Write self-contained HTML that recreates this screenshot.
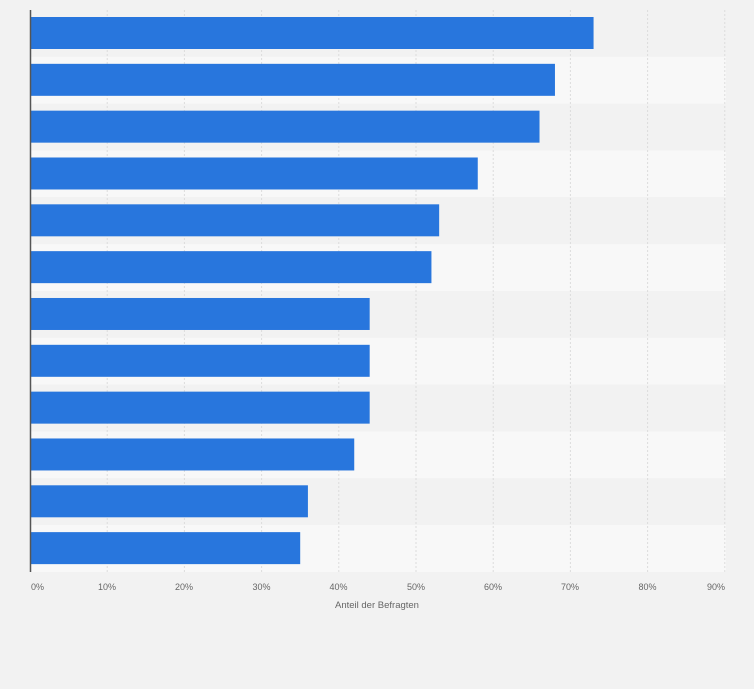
<!DOCTYPE html>
<html><head><meta charset="utf-8"><style>
html,body{margin:0;padding:0;background:#f2f2f2;}
svg{display:block;font-family:"Liberation Sans",Arial,sans-serif;}
</style></head><body>
<svg width="754" height="689" viewBox="0 0 754 689" xmlns="http://www.w3.org/2000/svg">
<rect width="754" height="689" fill="#f2f2f2"/>
<g id="rows"></g>
<g id="grid"></g>
<g id="bars"></g>
<line x1="30.5" y1="10" x2="30.5" y2="572" stroke="#555" stroke-width="1.5"/>
<g font-size="9" fill="#666">
<text x="31" y="590">0%</text>
<text x="107" y="590" text-anchor="middle">10%</text>
<text x="184" y="590" text-anchor="middle">20%</text>
<text x="261.5" y="590" text-anchor="middle">30%</text>
<text x="338.5" y="590" text-anchor="middle">40%</text>
<text x="416" y="590" text-anchor="middle">50%</text>
<text x="493" y="590" text-anchor="middle">60%</text>
<text x="570" y="590" text-anchor="middle">70%</text>
<text x="647.5" y="590" text-anchor="middle">80%</text>
<text x="725" y="590" text-anchor="end">90%</text>
</g>
<text x="377" y="608" font-size="9.5" fill="#666" text-anchor="middle">Anteil der Befragten</text>
<script>
var ns="http://www.w3.org/2000/svg";
function el(p,t,a){var e=document.createElementNS(ns,t);for(var k in a)e.setAttribute(k,a[k]);document.getElementById(p).appendChild(e);}
var vals=[73,68,66,58,53,52,44,44,44,42,36,35],pitch=46.83;
for(var i=0;i<12;i++){var y=10+i*pitch;
el("rows","rect",{x:30,y:y,width:696,height:pitch,fill:i%2?"#f8f8f8":"#f2f2f2"});
el("bars","rect",{x:30,y:y+7,width:vals[i]*7.72,height:32,fill:"#2876dd"});}
for(var j=1;j<=9;j++){var x=30+j*77.2;
el("grid","line",{x1:x,y1:10,x2:x,y2:572,stroke:"#dcdcdc","stroke-width":1,"stroke-dasharray":"2,2"});}
</script>
</svg>
</body></html>
